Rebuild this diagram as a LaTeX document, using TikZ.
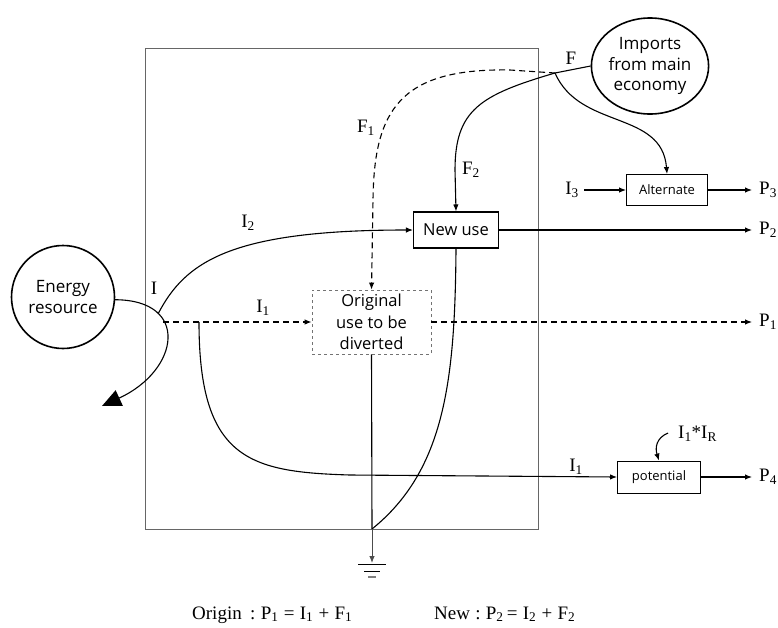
\documentclass[tikz,border=0pt]{standalone}
\usepackage{fontspec}
\setmainfont{Liberation Serif}
\newfontfamily\boxfont{Open Sans}
\usetikzlibrary{shapes.geometric,arrows.meta}
\begin{document}
\begin{tikzpicture}[x=1pt,y=-1pt,
  flow/.style={line width=1.1pt, black},
  arr/.style={-{Latex[length=7pt,width=5.5pt]}},
  lbl/.style={font=\fontsize{19}{19}\selectfont, inner sep=0pt},
  bubble/.style={draw, line width=1.6pt, align=center, inner sep=0pt,
                 font=\boxfont\fontsize{17}{20.5}\selectfont},
  stepbox/.style={draw, line width=1.1pt, inner sep=0pt, align=center},
]
\useasboundingbox (0,0) rectangle (778,627);
% frame
\draw[gray!80!black, line width=0.7pt] (145,48) rectangle (538,529);

% nodes
\node[bubble, circle, minimum size=103pt] (energy) at (63,297) {Energy\\resource};
\node[bubble, ellipse, minimum width=114pt, minimum height=96pt] (imports) at (650,66) {Imports\\from main\\economy};
\node[stepbox, minimum width=85pt, minimum height=36pt, font=\boxfont\fontsize{16.5}{18}\selectfont] (newuse) at (456,230) {New use};
\node[stepbox, draw=gray!90!black, dashed, line width=0.8pt, minimum width=119pt, minimum height=64pt,
      font=\boxfont\fontsize{16.5}{21.5}\selectfont] (orig) at (371.5,322) {Original\\use to be\\diverted};
\node[stepbox, line width=0.9pt, minimum width=81pt, minimum height=31pt, font=\boxfont\fontsize{13}{14}\selectfont] (alt) at (667,190) {Alternate};
\node[stepbox, line width=0.9pt, minimum width=83pt, minimum height=32pt, font=\boxfont\fontsize{13}{14}\selectfont] (pot) at (659,477) {potential};

% coordinates
\coordinate (Fj) at (555,73);
\coordinate (Ij) at (158,314);
\coordinate (I1s) at (163,322);
\coordinate (I1b) at (199,322);
\coordinate (gnd) at (372,529);
\coordinate (gndtip) at (372,563);
\coordinate (P1e) at (752,322);
\coordinate (P2e) at (752,230);
\coordinate (P3e) at (752,190);
\coordinate (P4e) at (752,477);
\coordinate (I3s) at (584,190);
\coordinate (IRs) at (668,433);
\coordinate (eout) at (102,406);

% energy resource outflow
\draw[flow, -{Triangle[length=19pt,width=17pt]}] (energy.-3) .. controls (190,300) and (180,370) .. (eout);
% I2
\draw[flow, arr] (Ij) .. controls (185,262) and (230,230) .. (newuse.west);
% I1 dashed
\draw[flow, dashed, dash pattern=on 6pt off 4pt, arr] (I1s) -- (orig.west);
\draw[flow, dashed, dash pattern=on 6pt off 4pt, arr] (orig.east) -- (P1e);
% I1 to potential
\draw[flow, arr] (I1b) .. controls (199,460) and (250,472) .. (350,475) -- (pot.west);
% imports
\draw[flow] (imports.west) -- (Fj);
\draw[flow, dashed, dash pattern=on 6pt off 4pt, arr] (Fj) -- (510,70) .. controls (400,68) and (374,110) .. (373,200) -- (orig.north);
\draw[flow, arr] (Fj) .. controls (480,95) and (455,110) .. (455,170) -- (newuse.north);
\draw[flow, arr] (Fj) .. controls (580,130) and (662,110) .. (alt.north);
% outputs
\draw[flow, arr] (newuse.east) -- (P2e);
\draw[flow, arr] (alt.east) -- (P3e);
\draw[flow, arr] (pot.east) -- (P4e);
\draw[flow, arr] (I3s) -- (alt.west);
\draw[flow, arr] (IRs) .. controls (656,438) and (655,448) .. (pot.north);
% to ground
\draw[flow] (orig.south) -- (gnd);
\draw[flow] (newuse.south) .. controls (455,380) and (445,470) .. (gnd);
\draw[line width=0.9pt, gray!60!black, arr] (gnd) -- (gndtip);
\draw[line width=1pt] (358,564) -- (386,564);
\draw[line width=1pt] (364,571) -- (380,571);
\draw[line width=1.3pt, gray] (368,577) -- (376,577);

% labels
\node[lbl] (lI) at (154,288) {I};
\node[lbl] (lI2) at (248,223) {I\textsubscript{2}};
\node[lbl] (lI1a) at (263,308) {I\textsubscript{1}};
\node[lbl] (lI1b) at (576,467) {I\textsubscript{1}};
\node[lbl] (lF) at (571,58) {F};
\node[lbl] (lF1) at (366,128) {F\textsubscript{1}};
\node[lbl] (lF2) at (471,170) {F\textsubscript{2}};
\node[lbl, anchor=east] (lI3) at (579,190) {I\textsubscript{3}};
\node[lbl, anchor=west] (lIR) at (678,434) {I\textsubscript{1}*I\textsubscript{R}};
\node[lbl, anchor=west] (lP3) at (759,190) {P\textsubscript{3}};
\node[lbl, anchor=west] (lP2) at (759,230) {P\textsubscript{2}};
\node[lbl, anchor=west] (lP1) at (759,322) {P\textsubscript{1}};
\node[lbl, anchor=west] (lP4) at (759,477) {P\textsubscript{4}};

\node[anchor=base west, inner sep=0pt, font=\fontsize{19}{19}\selectfont] (eq1) at (192,619)
  {Origin\;\,:\;P\textsubscript{1}\;=\;I\textsubscript{1}\;+\;F\textsubscript{1}};
\node[anchor=base west, inner sep=0pt, font=\fontsize{19}{19}\selectfont] (eq2) at (434,619)
  {New\;:\;P\textsubscript{2}\,=\;I\textsubscript{2}\;+\;F\textsubscript{2}};
\end{tikzpicture}
\end{document}
